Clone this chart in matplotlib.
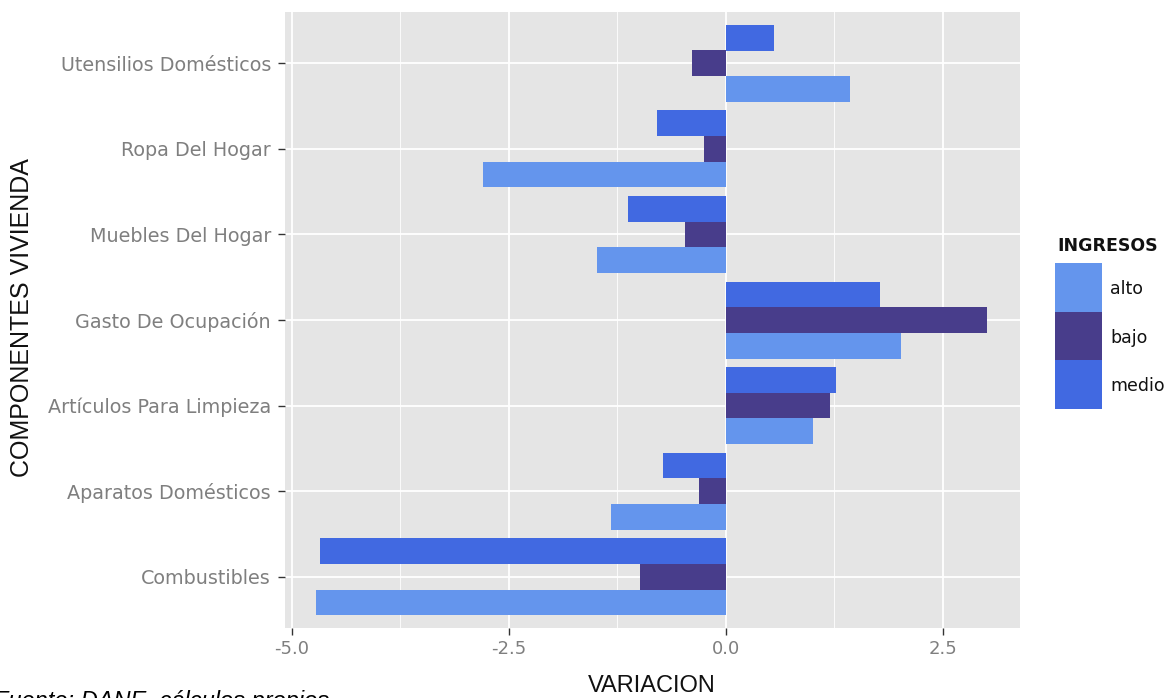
import numpy as np
import matplotlib
matplotlib.use("Agg")
import matplotlib.pyplot as plt
from matplotlib.patches import Rectangle

# Categories (bottom to top, as drawn)
componentes = ["Combustibles", "Aparatos Domésticos", "Artículos Para Limpieza",
               "Gasto De Ocupación", "Muebles Del Hogar", "Ropa Del Hogar",
               "Utensilios Domésticos"]

# Variation by income level
alto = [-4.72, -1.32, 1.00, 2.02, -1.49, -2.80, 1.43]
bajo = [-0.99, -0.31, 1.20, 3.01, -0.47, -0.25, -0.39]
medio = [-4.68, -0.72, 1.27, 1.78, -1.13, -0.79, 0.56]

ingresos = ["alto", "bajo", "medio"]
colores = {"alto": "#6495ED", "bajo": "#483D8B", "medio": "#4169E1"}

W, H = 1172, 698
fig = plt.figure(figsize=(W / 100, H / 100), dpi=100)
ax = fig.add_axes([285 / W, 1 - 628 / H, 735 / W, 616 / H])

y = np.arange(1, len(componentes) + 1)
w = 0.3
series = {"alto": alto, "bajo": bajo, "medio": medio}
for i, nivel in enumerate(ingresos):
    ax.barh(y + (i - 1) * w, series[nivel], height=w, color=colores[nivel],
            edgecolor="none", zorder=3, label=nivel)

# ggplot-like panel
ax.set_facecolor("#E5E5E5")
ax.set_xlim(-5.08, 3.39)
ax.set_ylim(0.4, 7.6)
ax.set_xticks([-5.0, -2.5, 0.0, 2.5])
ax.set_xticklabels(["-5.0", "-2.5", "0.0", "2.5"])
ax.set_xticks([-3.75, -1.25, 1.25], minor=True)
ax.set_yticks(y)
ax.set_yticklabels(componentes)
ax.grid(True, which="major", color="white", linewidth=1.3, zorder=0)
ax.grid(True, which="minor", axis="x", color="white", linewidth=0.6, zorder=0)
ax.set_axisbelow(True)
for s in ax.spines.values():
    s.set_visible(False)
ax.tick_params(axis="both", which="major", colors="#333333", length=5,
               width=1, labelcolor="#7F7F7F", labelsize=13)
ax.tick_params(axis="y", labelsize=13.8, pad=5)
ax.tick_params(axis="both", which="minor", length=0)

ax.set_xlabel("VARIACION", fontsize=17, family="Liberation Sans", color="#111111")
ax.xaxis.set_label_coords((652 - 285) / 735, -(686 - 628) / 616)
ax.set_ylabel("COMPONENTES VIVIENDA", fontsize=18, family="Liberation Sans",
              color="#111111")
ax.yaxis.set_label_coords(-(285 - 22) / 735, (628 - 318) / 616)
ax.xaxis.label.set_va("center")
ax.yaxis.label.set_va("center")

# Legend drawn as keys in figure pixels
fig.text(1057 / W, 1 - 246 / H, "INGRESOS", fontsize=12.5, fontweight="bold",
         va="center", ha="left", color="#111111")
tops = [263, 312, 360]
for nivel, top in zip(ingresos, tops):
    fig.add_artist(Rectangle((1055 / W, 1 - (top + 49) / H), 47 / W, 49 / H,
                             transform=fig.transFigure, facecolor=colores[nivel],
                             edgecolor="none"))
    fig.text(1110 / W, 1 - (top + 26) / H, nivel, fontsize=12.5, va="center",
             ha="left", color="#111111")

fig.text(-0.005, -0.022, "Fuente: DANE, cálculos propios", fontsize=17,
         style="italic", family="Liberation Sans", va="bottom", ha="left")

fig.savefig("out.png", dpi=100)
